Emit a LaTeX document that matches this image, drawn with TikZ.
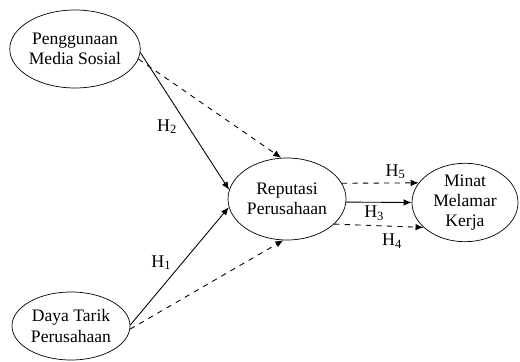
\documentclass[tikz,border=0pt]{standalone}
\usepackage{fontspec}
\setmainfont{Liberation Serif}
\usepackage{tikz}
\usetikzlibrary{arrows.meta,positioning,shapes.geometric}

\begin{document}
\begin{tikzpicture}[x=1cm,y=1cm,
  construct/.style={draw,ellipse,inner sep=0pt,align=center,font=\fontsize{10}{11.4}\selectfont},
  link/.style={line width=0.5pt,-{Latex[length=1.6mm,width=1.3mm]}},
  hyp/.style={font=\fontsize{10.2}{12}\selectfont,inner sep=2pt}]
  \useasboundingbox (0,0) rectangle (10.4,7.22);
  \node[construct,minimum width=2.40cm,minimum height=1.56cm] (pms) at (1.50,6.24) {Penggunaan\\Media Sosial};
  \node[construct,minimum width=2.36cm,minimum height=1.64cm] (rp) at (5.74,3.24) {Reputasi\\Perusahaan};
  \node[construct,minimum width=2.12cm,minimum height=1.50cm] (mmk) at (9.30,3.17) {Minat\\Melamar\\Kerja};
  \node[construct,minimum width=2.36cm,minimum height=1.36cm] (dtp) at (1.42,0.70) {Daya Tarik\\Perusahaan};
  \draw[link] (pms.-3) -- node[hyp,pos=0.54,left=4pt] {H\textsubscript{2}} (rp.171);
  \draw[link,dashed] (pms.-9) -- (rp.98);
  \draw[link] (dtp.1) -- node[hyp,pos=0.53,left=4pt] {H\textsubscript{1}} (rp.188);
  \draw[link,dashed] (dtp.-3) -- (rp.265);
  \draw[link,dashed] (rp.16) -- node[hyp,pos=0.7,above] {H\textsubscript{5}} (mmk.157);
  \draw[link] (rp.-3) -- node[hyp,pos=0.43,below] {H\textsubscript{3}} (mmk.180);
  \draw[link,dashed] (rp.-28) -- node[hyp,pos=0.65,below=2pt] {H\textsubscript{4}} (mmk.211);
\end{tikzpicture}
\end{document}
